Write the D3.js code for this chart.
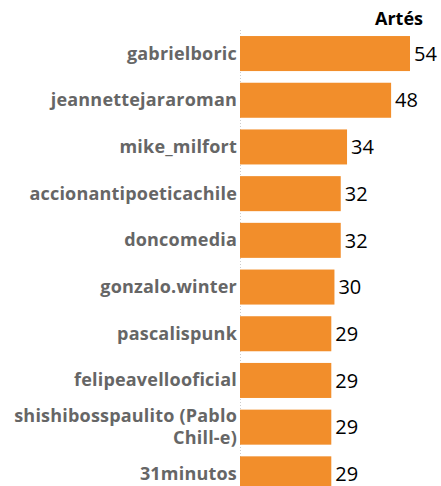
<!DOCTYPE html>
<html>
<head>
<meta charset="utf-8">
<script src="https://cdn.jsdelivr.net/npm/d3@7"></script>
<style>
  body { margin: 0; background: #fff; }
  svg { display: block; }
  .label { font-family: 'Open Sans', sans-serif; font-weight: 700; fill: #666; font-size: 18px; letter-spacing: 0.2px; }
  .value { font-family: 'Open Sans', sans-serif; fill: #000; font-size: 20px; }
  .title { font-family: 'Open Sans', sans-serif; font-weight: 700; fill: #000; font-size: 18px; }
</style>
</head>
<body>
<script>
var names = ['gabrielboric', 'jeannettejararoman', 'mike_milfort', 'accionantipoeticachile',
    'doncomedia', 'gonzalo.winter', 'pascalispunk', 'felipeavellooficial',
    'shishibosspaulito (Pablo Chill-e)', '31minutos'];
var values = [54, 48, 34, 32, 32, 30, 29, 29, 29, 29];
var seriesName = 'Artés';

var w = 441, h = 486;
var left = 240;

var svg = d3.select('body')
    .append('svg')
    .attr('width', w)
    .attr('height', h);

var x = d3.scaleLinear()
    .domain([0, 54])
    .range([left, 410]);

var y = d3.scaleBand()
    .domain(names)
    .range([30.2, 497.2])
    .paddingInner(0.25)
    .paddingOuter(0.125);

// dotted baseline
svg.append('line')
    .attr('x1', left + 0.5)
    .attr('x2', left + 0.5)
    .attr('y1', 30)
    .attr('y2', h)
    .style('stroke', '#ccc')
    .style('stroke-dasharray', '1,2');

svg.selectAll('.bar')
    .data(values)
    .enter()
    .append('rect')
    .attr('class', 'bar')
    .attr('x', x(0))
    .attr('y', function(d, i) { return y(names[i]); })
    .attr('width', function(d) { return x(d) - x(0); })
    .attr('height', y.bandwidth())
    .style('fill', '#f28e2b');

svg.selectAll('.value')
    .data(values)
    .enter()
    .append('text')
    .attr('class', 'value')
    .attr('x', function(d) { return x(d) + 4; })
    .attr('y', function(d, i) { return y(names[i]) + y.bandwidth() / 2; })
    .attr('dy', '0.36em')
    .text(function(d) { return d; });

var labels = svg.selectAll('.label')
    .data(names)
    .enter()
    .append('text')
    .attr('class', 'label')
    .attr('text-anchor', 'end')
    .attr('x', 237)
    .attr('y', function(d) { return y(d) + y.bandwidth() / 2; });

// wrap long labels
labels.each(function(d) {
    var el = d3.select(this);
    var words = d.split(' ');
    var lines = [], line = [];
    var probe = el.append('tspan');
    words.forEach(function(wd) {
        line.push(wd);
        probe.text(line.join(' '));
        if (probe.node().getComputedTextLength() > 232 && line.length > 1) {
            line.pop();
            lines.push(line.join(' '));
            line = [wd];
        }
    });
    lines.push(line.join(' '));
    probe.remove();
    var lh = 22;
    var y0 = -(lines.length - 1) * lh / 2;
    lines.forEach(function(t, i) {
        el.append('tspan')
            .attr('x', 237)
            .attr('dy', i === 0 ? (y0 + 6) : lh)
            .text(t);
    });
});

svg.append('text')
    .attr('class', 'title')
    .attr('text-anchor', 'end')
    .attr('x', 423)
    .attr('y', 25)
    .text(seriesName);
</script>
</body>
</html>
